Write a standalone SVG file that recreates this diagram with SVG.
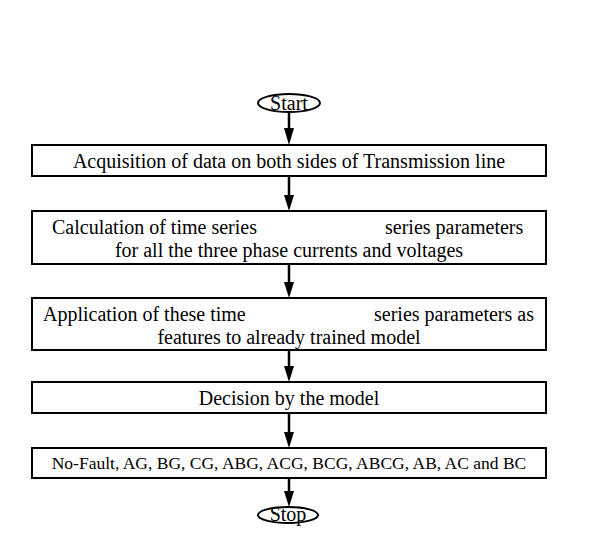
<svg xmlns="http://www.w3.org/2000/svg" width="601" height="539" viewBox="0 0 601 539">
<defs>
<style>
.box{fill:#fff;stroke:#000;stroke-width:2}
.term{fill:#fff;stroke:#000;stroke-width:2}
.t{font-family:"Liberation Serif","Times New Roman",serif;font-size:20px;fill:#000}
.s{font-size:17.5px}
.c{text-anchor:middle}
.line{stroke:#000;stroke-width:2.5;fill:none}
.head{fill:#000}
</style>
</defs>
<rect width="601" height="539" fill="#fff"/>
<g id="connectors">
<path class="line" d="M289,112 V128"/><path class="head" d="M284,128 L294,128 L289,145 Z"/>
<path class="line" d="M289,176 V195"/><path class="head" d="M284,195 L294,195 L289,211 Z"/>
<path class="line" d="M289,264 V282"/><path class="head" d="M284,282 L294,282 L289,298 Z"/>
<path class="line" d="M289,350 V366"/><path class="head" d="M284,366 L294,366 L289,382 Z"/>
<path class="line" d="M289,413 V432"/><path class="head" d="M284,432 L294,432 L289,448 Z"/>
<path class="line" d="M289,478 V491"/><path class="head" d="M284,491 L294,491 L289,507 Z"/>
</g>
<g id="start">
<ellipse class="term" cx="289" cy="103" rx="31" ry="9"/>
<text class="t c" x="289" y="110">Start</text>
</g>
<g id="acquisition">
<rect class="box" x="32" y="145" width="514" height="31"/>
<text class="t c" x="289" y="168">Acquisition of data on both sides of Transmission line</text>
</g>
<g id="calculation">
<rect class="box" x="32" y="211" width="514" height="53"/>
<text class="t" x="52" y="234">Calculation of time series</text>
<text class="t" x="385" y="234">series parameters</text>
<text class="t c" x="289" y="257">for all the three phase currents and voltages</text>
</g>
<g id="application">
<rect class="box" x="32" y="298" width="514" height="52"/>
<text class="t" x="43" y="321">Application of these time</text>
<text class="t" x="374" y="321">series parameters as</text>
<text class="t c" x="289" y="344">features to already trained model</text>
</g>
<g id="decision">
<rect class="box" x="32" y="382" width="514" height="31"/>
<text class="t c" x="289" y="405">Decision by the model</text>
</g>
<g id="classes">
<rect class="box" x="32" y="448" width="514" height="30"/>
<text class="t s c" x="289" y="469">No-Fault, AG, BG, CG, ABG, ACG, BCG, ABCG, AB, AC and BC</text>
</g>
<g id="stop">
<ellipse class="term" cx="288" cy="515" rx="30" ry="8"/>
<text class="t c" x="288" y="521">Stop</text>
</g>
</svg>
